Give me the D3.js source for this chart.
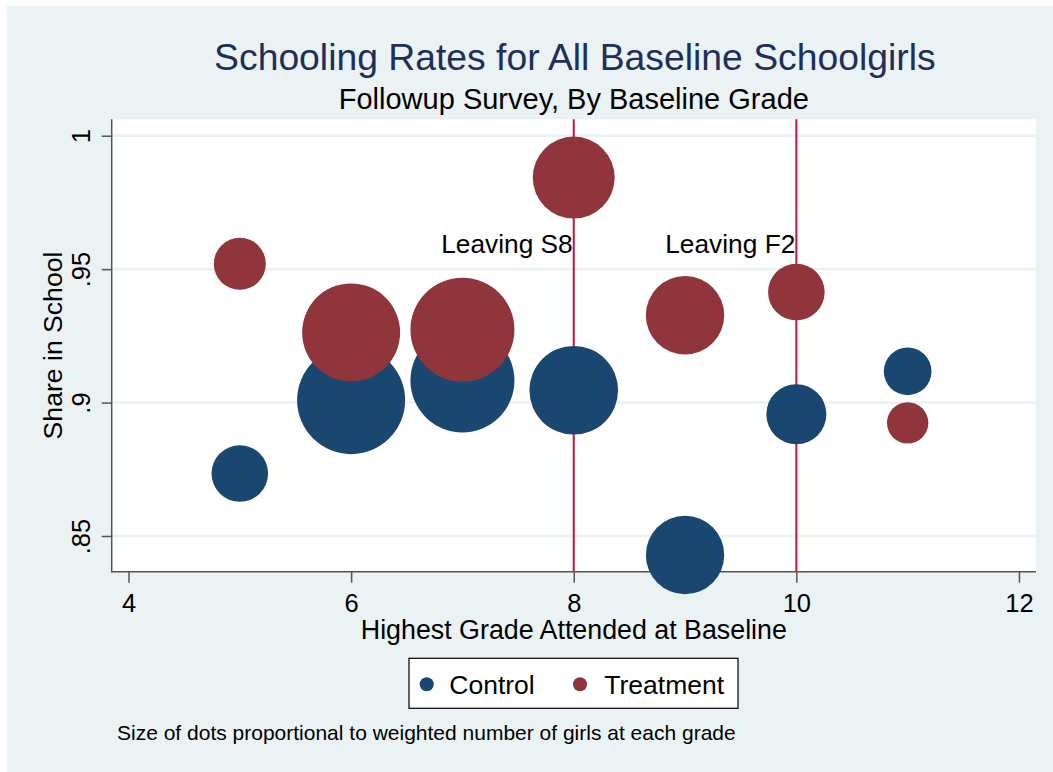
<!DOCTYPE html>
<html>
<head>
<meta charset="utf-8">
<script src="https://cdn.jsdelivr.net/npm/d3@7"></script>
<style>
  body { margin: 0; background: #fff; }
  svg { display: block; font-family: "Liberation Sans", Arial, sans-serif; }
</style>
</head>
<body>
<script>
// grades and shares
var grades = [5, 6, 7, 8, 9, 10, 11];
var controlShare   = [0.8734, 0.9009, 0.9083, 0.9046, 0.8429, 0.8956, 0.9117];
var treatmentShare = [0.9520, 0.9263, 0.9273, 0.9843, 0.9327, 0.9414, 0.8924];
// weighted number of girls (bubble area)
var controlWeight   = [200, 729, 676, 491, 384, 225, 142];
var treatmentWeight = [169, 600, 676, 420, 384, 200, 107];

var xTicks = [4, 6, 8, 10, 12];
var yTicks = [0.85, 0.9, 0.95, 1];
var yTickLabels = [".85", ".9", ".95", "1"];
var xLines = [8, 10];
var xLineLabels = ["Leaving S8", "Leaving F2"];

var W = 1053, H = 772;
var plot = {left: 111.7, right: 1036, top: 119.3, bottom: 571.7};

var navy = "#1a476f", maroon = "#90353b", bg = "#eaf2f3";

var svg = d3.select("body").append("svg")
    .attr("width", W)
    .attr("height", H);

// outer graph region
svg.append("rect")
    .attr("x", 7).attr("y", 6)
    .attr("width", W - 7).attr("height", H - 6)
    .attr("fill", bg);

// plot region
svg.append("rect")
    .attr("x", plot.left).attr("y", plot.top)
    .attr("width", plot.right - plot.left)
    .attr("height", plot.bottom - plot.top)
    .attr("fill", "#fff");

var x = d3.scaleLinear()
    .domain([3.849, 12.153])
    .range([plot.left, plot.right]);

var y = d3.scaleLinear()
    .domain([0.83662, 1.00615])
    .range([plot.bottom, plot.top]);

var r = d3.scaleSqrt()
    .domain([0, 729])
    .range([0, 54]);

// gridlines
svg.append("g").selectAll("line")
    .data(yTicks)
  .enter().append("line")
    .attr("x1", plot.left).attr("x2", plot.right)
    .attr("y1", function(d) { return y(d); })
    .attr("y2", function(d) { return y(d); })
    .attr("stroke", bg)
    .attr("stroke-width", 2.5);

// vertical reference lines
svg.append("g").selectAll("line")
    .data(xLines)
  .enter().append("line")
    .attr("x1", function(d) { return x(d); })
    .attr("x2", function(d) { return x(d); })
    .attr("y1", plot.top).attr("y2", plot.bottom)
    .attr("stroke", "#c8143c")
    .attr("stroke-width", 2);

svg.append("g").selectAll("text")
    .data(xLines)
  .enter().append("text")
    .attr("x", function(d) { return x(d) - 1; })
    .attr("y", y(0.9559))
    .attr("text-anchor", "end")
    .style("font-size", "26.3px")
    .attr("fill", "#000")
    .text(function(d, i) { return xLineLabels[i]; });

// axes
var yAxis = d3.axisLeft(y)
    .tickValues(yTicks)
    .tickSize(10)
    .tickFormat(function(d, i) { return yTickLabels[i]; });

var gy = svg.append("g")
    .attr("transform", "translate(" + plot.left + ",0)")
    .call(yAxis);
gy.select(".domain").remove();
gy.selectAll(".tick line").attr("stroke", "#555").attr("stroke-width", 1.5);
gy.selectAll(".tick text")
    .attr("transform", "rotate(-90)")
    .attr("x", 0)
    .attr("y", -21.7)
    .attr("dy", 0)
    .style("text-anchor", "middle")
    .style("font-size", "25.5px")
    .style("font-family", "'Liberation Sans', Arial, sans-serif")
    .attr("fill", "#000");

var xAxis = d3.axisBottom(x)
    .tickValues(xTicks)
    .tickSize(11)
    .tickFormat(d3.format("d"));

var gx = svg.append("g")
    .attr("transform", "translate(0," + plot.bottom + ")")
    .call(xAxis);
gx.select(".domain").remove();
gx.selectAll(".tick line").attr("stroke", "#555").attr("stroke-width", 1.5);
gx.selectAll(".tick text")
    .attr("y", 40)
    .attr("dy", 0)
    .style("font-size", "25.5px")
    .style("font-family", "'Liberation Sans', Arial, sans-serif")
    .attr("fill", "#000");

// axis lines
svg.append("line")
    .attr("x1", plot.left).attr("x2", plot.left)
    .attr("y1", plot.top).attr("y2", plot.bottom + 0.75)
    .attr("stroke", "#555").attr("stroke-width", 1.5);
svg.append("line")
    .attr("x1", plot.left).attr("x2", plot.right)
    .attr("y1", plot.bottom).attr("y2", plot.bottom)
    .attr("stroke", "#555").attr("stroke-width", 1.5);

// bubbles: control first, treatment over it
var control = grades.map(function(g, i) {
  return {grade: g, share: controlShare[i], w: controlWeight[i]};
});
var treatment = grades.map(function(g, i) {
  return {grade: g, share: treatmentShare[i], w: treatmentWeight[i]};
});

svg.append("g").selectAll("circle")
    .data(control)
  .enter().append("circle")
    .attr("cx", function(d) { return x(d.grade); })
    .attr("cy", function(d) { return y(d.share); })
    .attr("r", function(d) { return r(d.w); })
    .attr("fill", navy);

svg.append("g").selectAll("circle")
    .data(treatment)
  .enter().append("circle")
    .attr("cx", function(d) { return x(d.grade); })
    .attr("cy", function(d) { return y(d.share); })
    .attr("r", function(d) { return r(d.w); })
    .attr("fill", maroon);

// titles
var cx = (plot.left + plot.right) / 2;
svg.append("text")
    .attr("x", cx + 1).attr("y", 70)
    .attr("text-anchor", "middle")
    .style("font-size", "37.3px")
    .attr("fill", "#1e2f5a")
    .text("Schooling Rates for All Baseline Schoolgirls");

svg.append("text")
    .attr("x", cx).attr("y", 108.7)
    .attr("text-anchor", "middle")
    .style("font-size", "29px")
    .attr("fill", "#000")
    .text("Followup Survey, By Baseline Grade");

svg.append("text")
    .attr("x", cx).attr("y", 639)
    .attr("text-anchor", "middle")
    .style("font-size", "26.8px")
    .attr("fill", "#000")
    .text("Highest Grade Attended at Baseline");

svg.append("text")
    .attr("transform", "translate(61.5," + (plot.top + plot.bottom) / 2 + ") rotate(-90)")
    .attr("text-anchor", "middle")
    .style("font-size", "26.6px")
    .attr("fill", "#000")
    .text("Share in School");

// legend
var legend = svg.append("g");
legend.append("rect")
    .attr("x", 409).attr("y", 658.3)
    .attr("width", 329).attr("height", 50)
    .attr("fill", "#fff")
    .attr("stroke", "#000")
    .attr("stroke-width", 1.2);

var legItems = [
  {name: "Control", color: navy, mx: 426.7, tx: 449.3},
  {name: "Treatment", color: maroon, mx: 580, tx: 604.3}
];
var li = legend.selectAll(".leg")
    .data(legItems)
  .enter().append("g")
    .attr("class", "leg");
li.append("circle")
    .attr("cx", function(d) { return d.mx; })
    .attr("cy", 684.3)
    .attr("r", 7)
    .attr("fill", function(d) { return d.color; });
li.append("text")
    .attr("x", function(d) { return d.tx; })
    .attr("y", 694.3)
    .style("font-size", "26.5px")
    .attr("fill", "#000")
    .text(function(d) { return d.name; });

// note
svg.append("text")
    .attr("x", 117).attr("y", 740)
    .style("font-size", "21px")
    .attr("fill", "#000")
    .text("Size of dots proportional to weighted number of girls at each grade");
</script>
</body>
</html>
